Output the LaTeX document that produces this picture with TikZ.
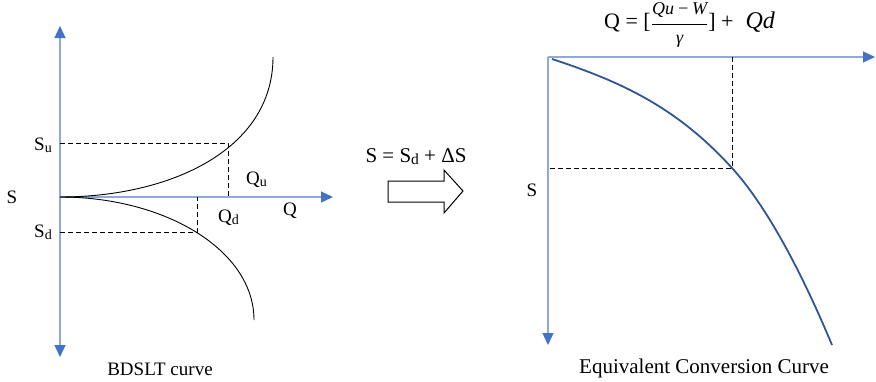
\documentclass[tikz,border=0pt]{standalone}
\usepackage{fontspec}
\setmainfont{Liberation Serif}
\usetikzlibrary{arrows.meta}
\definecolor{axisline}{HTML}{8EA9DB}
\definecolor{axishead}{HTML}{4472C4}
\definecolor{curveblue}{HTML}{2F5597}
\tikzset{
  tip/.tip={Triangle[length=12pt,width=11pt,color=axishead]},
  axis/.style={draw=axisline, line width=1.3pt},
  guide/.style={draw=black, line width=0.9pt, dash pattern=on 5pt off 3pt},
  lbl/.style={font=\fontsize{19}{22}\selectfont, inner sep=0pt},
}
\newcommand{\sbx}[1]{\raisebox{-2pt}{\fontsize{14}{14}\selectfont #1}}
\newcommand{\sbxb}[1]{\raisebox{-2pt}{\fontsize{15.5}{15.5}\selectfont #1}}
\newcommand{\fsm}[1]{\mbox{\fontsize{18}{18}\selectfont\itshape #1}}
\begin{document}
\begin{tikzpicture}[x=1pt,y=-1pt]
\useasboundingbox (0,0) rectangle (876,381);
% ---------- left diagram ----------
\coordinate (O1) at (60,197);
\coordinate (Ltop) at (60,26);
\coordinate (Lbot) at (60,357);
\coordinate (Lright) at (333,197);
\draw[axis, tip-tip] (Lbot) -- (Ltop);
\draw[axis, -tip] (O1) -- (Lright);
\coordinate (Uend) at (273,57);
\coordinate (Dend) at (254,320);
\draw[black, line width=0.9pt] (O1) .. controls (170,197) and (273,150) .. (Uend);
\draw[black, line width=0.9pt] (O1) .. controls (165,197) and (254,250) .. (Dend);
\coordinate (Pu) at (228,143);
\coordinate (Pd) at (197,232);
\coordinate (SuA) at (60,143);
\coordinate (SdA) at (60,232);
\coordinate (QuA) at (228,197);
\coordinate (QdA) at (197,197);
\draw[guide] (SuA) -- (Pu) -- (QuA);
\draw[guide] (SdA) -- (Pd) -- (QdA);
\node[lbl, anchor=east] (su) at (52,145) {S\sbx{u}};
\node[lbl, anchor=east] (sd) at (52,232) {S\sbx{d}};
\node[lbl] (s1) at (12,197) {S};
\node[lbl, anchor=west] (qu) at (246,180) {Q\sbx{u}};
\node[lbl, anchor=west] (qd) at (218,218) {Q\sbx{d}};
\node[lbl] (q1) at (290,211) {Q};
\node[lbl] (cap1) at (160,369) {BDSLT curve};
% ---------- middle ----------
\node[lbl, font=\fontsize{21}{24}\selectfont] (eq) at (416,157) {S = S\sbxb{d} + ΔS};
\draw[black, line width=1pt] (388,181) -- (444,181) -- (444,170) -- (463,191) -- (444,213) -- (444,202) -- (388,202) -- cycle;
% ---------- right diagram ----------
\coordinate (O2) at (548,57);
\coordinate (Rright) at (875,57);
\coordinate (Rbot) at (548,345);
\draw[axis, -tip] (O2) -- (Rright);
\draw[axis, -tip] (O2) -- (Rbot);
\coordinate (Cs) at (552,59);
\coordinate (Ce) at (832,345);
\coordinate (Pc) at (732,168);
\draw[curveblue, line width=1.8pt] (Cs) .. controls (622,82) and (677,107.5) .. (Pc)
   .. controls (767,206.5) and (802,273) .. (Ce);
\coordinate (Rtop) at (732,57);
\coordinate (Rleft) at (548,168);
\draw[guide] (Rtop) -- (Pc) -- (Rleft);
\node[lbl] (s2) at (532,190) {S};
\node[lbl, font=\fontsize{22}{26}\selectfont, anchor=west] (title) at (604,25) {Q = [$\displaystyle\frac{\fsm{Qu\,−\,W}}{\fsm{γ}}$] +\hspace{12pt}{\fontsize{24}{26}\selectfont\itshape Qd}};
\node[lbl, font=\fontsize{21}{24}\selectfont] (cap2) at (704,368) {Equivalent Conversion Curve};
\end{tikzpicture}
\end{document}
